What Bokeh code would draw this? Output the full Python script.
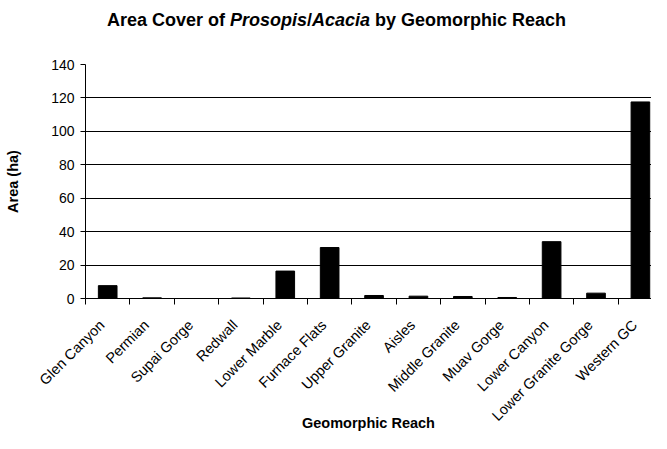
import math
from bokeh.plotting import figure
from bokeh.models import Range1d, FixedTicker, ColumnDataSource, Div
from bokeh.layouts import column
from bokeh.embed import file_html
from bokeh.resources import INLINE

# ---- data ----
reaches = ["Glen Canyon", "Permian", "Supai Gorge", "Redwall", "Lower Marble",
           "Furnace Flats", "Upper Granite", "Aisles", "Middle Granite",
           "Muav Gorge", "Lower Canyon", "Lower Granite Gorge", "Western GC"]
area_ha = [7.7, 0.4, 0.0, 0.3, 16.4, 30.5, 1.8, 1.4, 1.2, 0.6, 34.0, 3.2, 117.6]
y_ticks = [0, 20, 40, 60, 80, 100, 120, 140]

title_html = "Area Cover of <i>Prosopis</i>/<i>Acacia</i> by Geomorphic Reach"
x_title = "Geomorphic Reach"
y_title = "Area (ha)"

FONT = "Liberation Sans"

centers = [i + 0.5 for i in range(len(reaches))]
bounds = [i for i in range(len(reaches) + 1)]
LABEL_SHIFT = 0.13  # rotated labels end slightly left of the category centre
label_ticks = [round(c - LABEL_SHIFT, 3) for c in centers]

src = ColumnDataSource(dict(x=centers, top=area_ha, name=reaches))

TITLE_H = 40
FRAME_TOP = 64
FRAME_H = 235
FIG_H = 433 - TITLE_H
p = figure(width=651, height=FIG_H, output_backend="svg", toolbar_location=None,
           x_range=Range1d(0, 12.75), y_range=Range1d(0, 140),
           min_border_left=85, min_border_right=0, min_border_top=FRAME_TOP - TITLE_H,
           min_border_bottom=FIG_H - (FRAME_TOP - TITLE_H) - FRAME_H)
p.outline_line_color = None
p.background_fill_color = "white"
p.border_fill_color = "white"

p.vbar(x="x", top="top", width=0.42, source=src, fill_color="black", line_color="black")

# grid
p.xgrid.visible = False
p.ygrid.grid_line_color = "black"
p.ygrid.grid_line_width = 1

# y axis
p.yaxis.ticker = FixedTicker(ticks=y_ticks)
p.yaxis.axis_line_color = "black"
p.yaxis.major_tick_line_color = "black"
p.yaxis.major_tick_out = 5
p.yaxis.major_tick_in = 0
p.yaxis.minor_tick_line_color = None
p.yaxis.major_label_text_font = FONT
p.yaxis.major_label_text_font_size = "14px"
p.yaxis.major_label_text_color = "black"
p.yaxis.major_label_standoff = 6
p.yaxis.axis_label = y_title
p.yaxis.axis_label_text_font = FONT
p.yaxis.axis_label_text_font_style = "bold"
p.yaxis.axis_label_text_font_size = "14.5px"
p.yaxis.axis_label_text_color = "black"
p.yaxis.axis_label_standoff = 27

# x axis
p.xaxis.ticker = FixedTicker(ticks=label_ticks, minor_ticks=bounds)
p.xaxis.major_label_overrides = {t: n for t, n in zip(label_ticks, reaches)}
p.xaxis.major_tick_line_color = None
p.xaxis.major_tick_out = 0
p.xaxis.major_tick_in = 0
p.xaxis.minor_tick_line_color = "black"
p.xaxis.minor_tick_out = 6
p.xaxis.minor_tick_in = 0
p.xaxis.axis_line_color = "black"
p.xaxis.major_label_orientation = math.pi / 4
p.xaxis.major_label_text_font = FONT
p.xaxis.major_label_text_font_size = "14.5px"
p.xaxis.major_label_text_color = "black"
p.xaxis.major_label_standoff = 18
p.xaxis.axis_label = x_title
p.xaxis.axis_label_text_font = FONT
p.xaxis.axis_label_text_font_style = "bold"
p.xaxis.axis_label_text_font_size = "14.5px"
p.xaxis.axis_label_text_color = "black"
p.xaxis.axis_label_standoff = -18

title = Div(text=title_html, width=651, height=TITLE_H, margin=(0, 0, 0, 0),
            styles={"font-family": "'Liberation Sans'", "font-size": "18px",
                    "font-weight": "bold", "color": "black", "text-align": "center",
                    "line-height": "20px", "padding-top": "10px", "padding-left": "22px",
                    "box-sizing": "border-box"})

layout = column(title, p, spacing=0, margin=(0, 0, 0, 0))
open("out.html", "w").write(file_html(layout, INLINE))
